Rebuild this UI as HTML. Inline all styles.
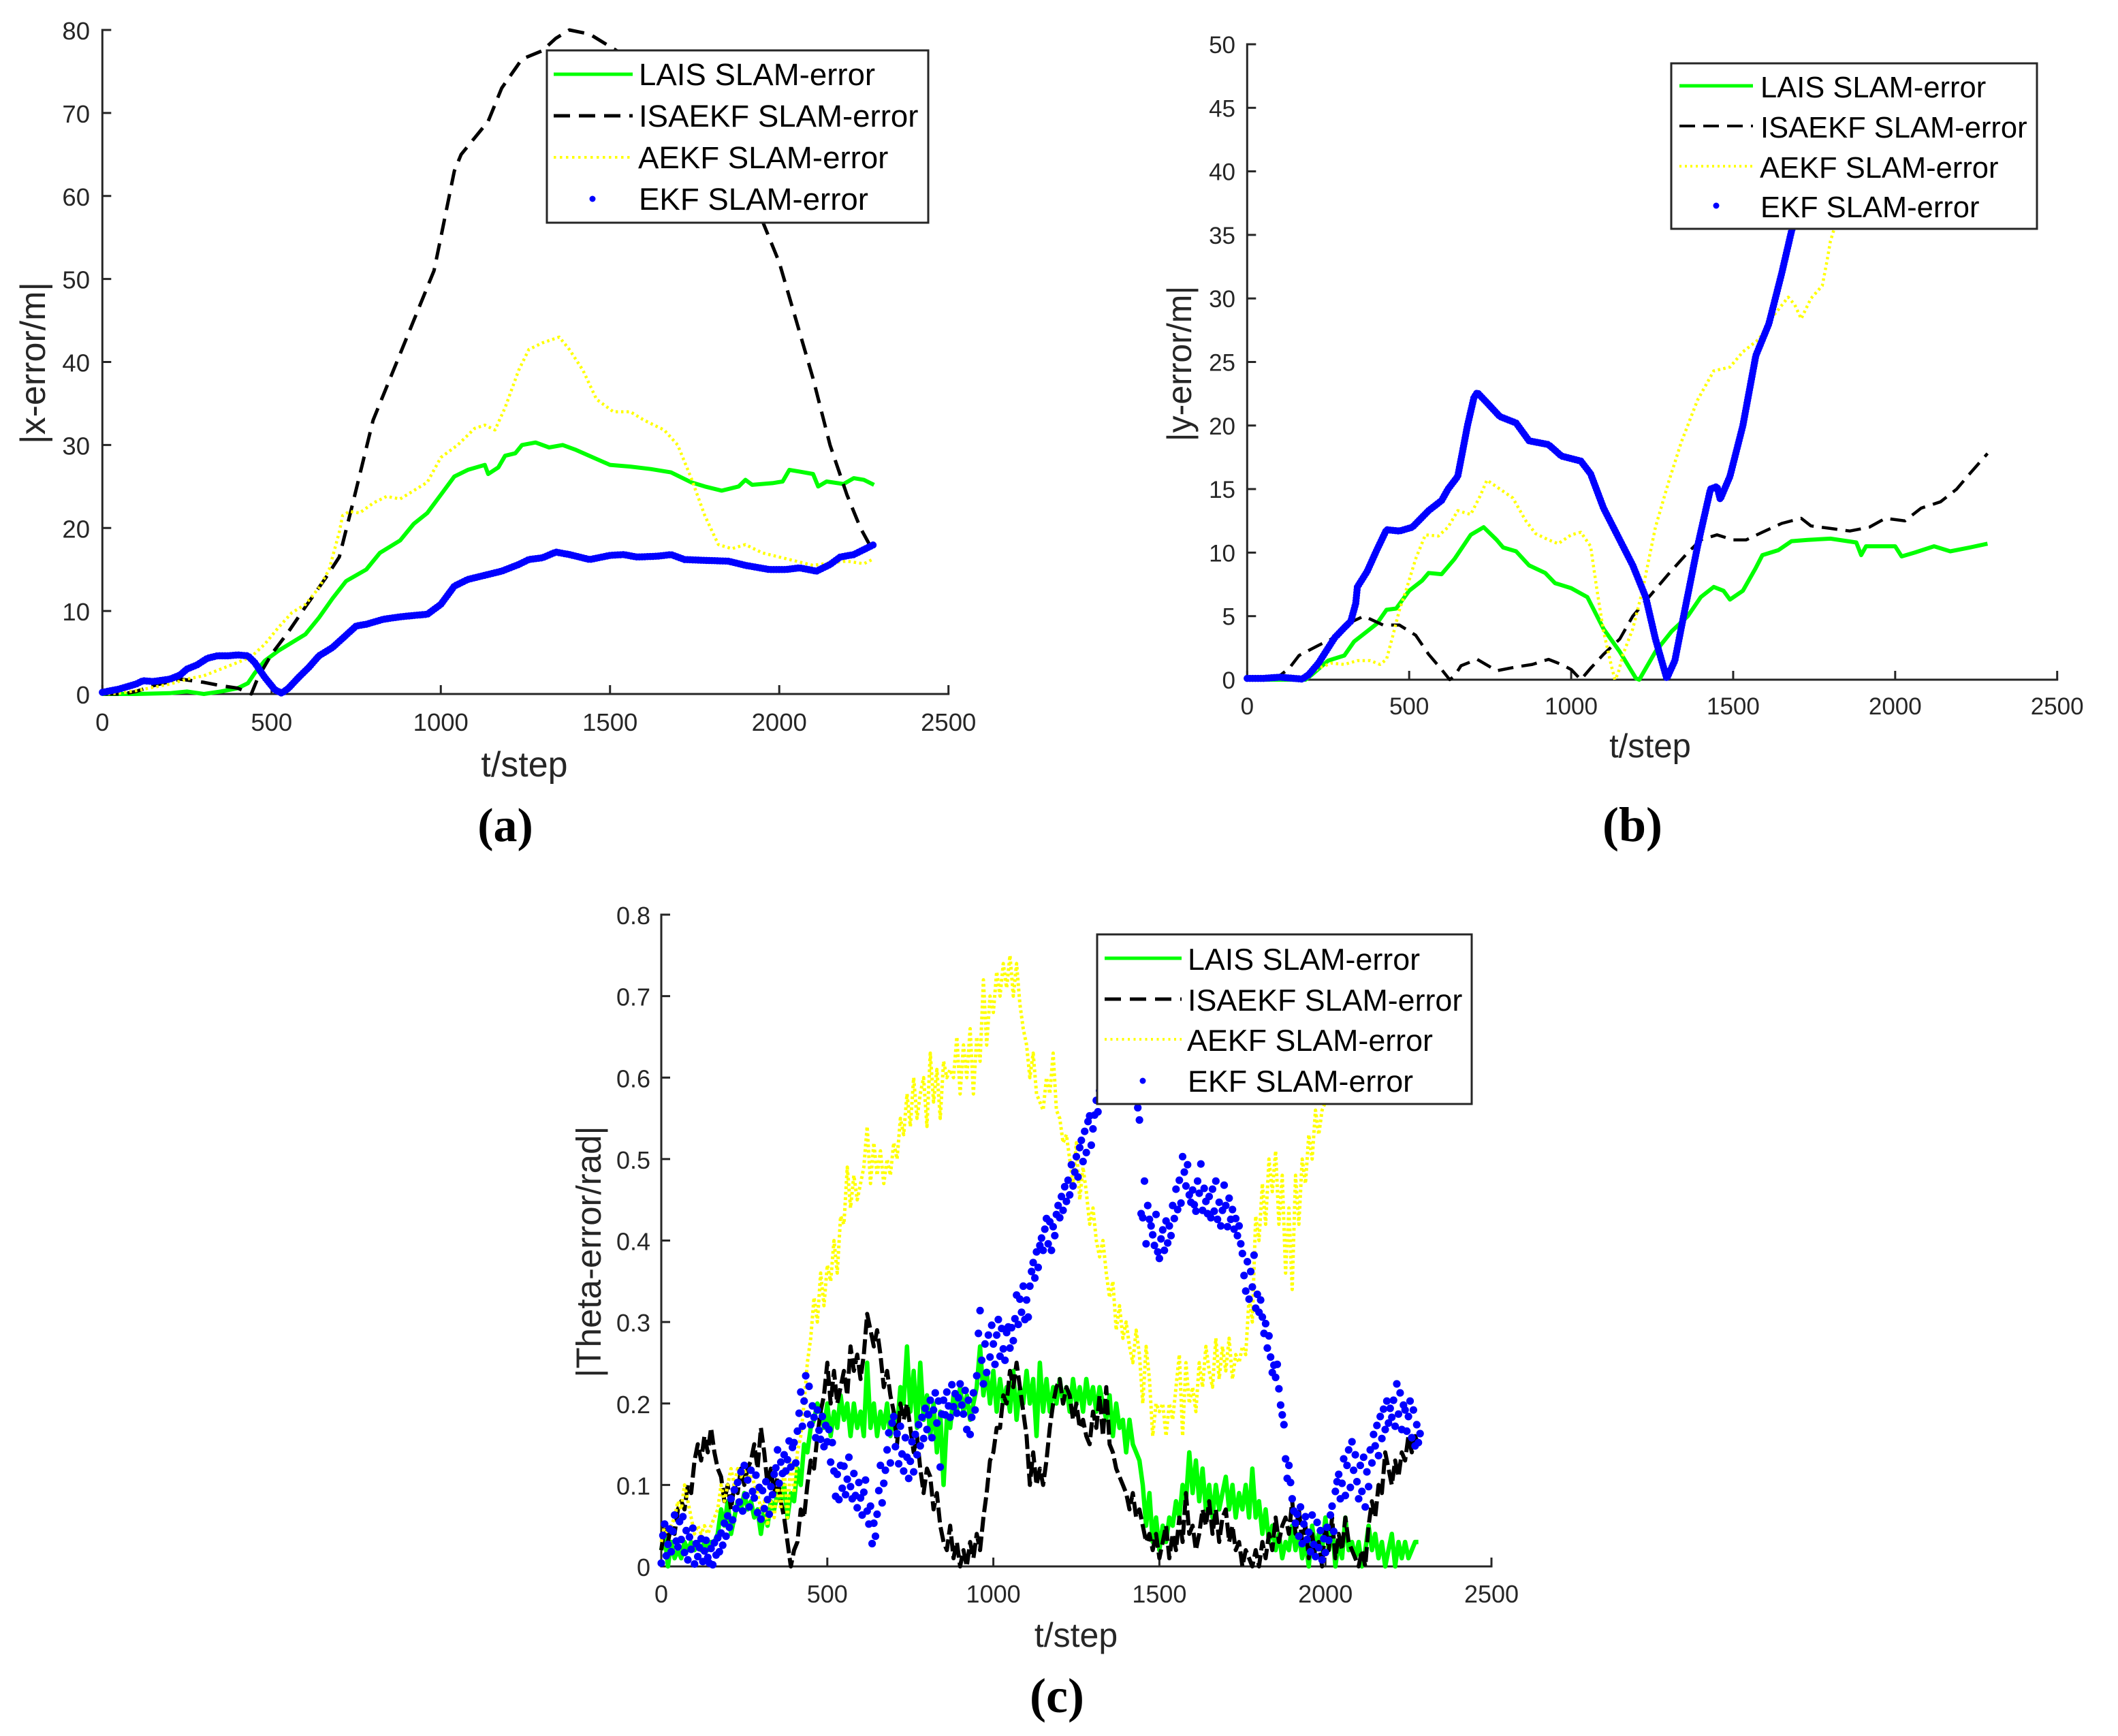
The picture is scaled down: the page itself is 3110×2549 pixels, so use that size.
<!DOCTYPE html>
<html lang="en">
<head>
<meta charset="utf-8">
<title>SLAM error comparison</title>
<style>
html,body{margin:0;padding:0;background:#fff;}
svg{display:block;}
text{font-family:"Liberation Sans",Arial,sans-serif;}
.tick{fill:#262626;}
.axt{fill:#262626;}
.leg{fill:#000;}
.cap{font-family:"Liberation Serif",serif;font-weight:bold;fill:#000;}
</style>
</head>
<body>
<svg id="fig" xmlns="http://www.w3.org/2000/svg" width="3110" height="2549" viewBox="0 0 3110 2549">
<rect x="0" y="0" width="3110" height="2549" fill="#fff"/>

<g id="panel-a">
  <g id="a-plot"></g>
  <g>
    <rect x="803" y="74" width="560" height="253" fill="#fff" stroke="#262626" stroke-width="3"/>
    <line x1="813" x2="929" y1="109" y2="109" stroke="#00ff00" stroke-width="5"/>
    <line x1="813" x2="929" y1="170" y2="170" stroke="#000" stroke-width="5" stroke-dasharray="24 13"/>
    <line x1="813" x2="929" y1="231" y2="231" stroke="#ffff00" stroke-width="4" stroke-dasharray="3.5 5.5"/>
    <circle cx="870" cy="292" r="4.5" fill="#0000ff"/>
    <text class="leg" x="938" y="125" font-size="45.6">LAIS SLAM-error</text>
    <text class="leg" x="938" y="186" font-size="45.6">ISAEKF SLAM-error</text>
    <text class="leg" x="937" y="247" font-size="45.6">AEKF SLAM-error</text>
    <text class="leg" x="938" y="308" font-size="45.6">EKF SLAM-error</text>
  </g>
  <text class="axt" x="770" y="1140" font-size="52" text-anchor="middle">t/step</text>
  <text class="axt" transform="translate(66,533) rotate(-90)" font-size="52" text-anchor="middle">|x-error/m|</text>
  <text class="cap" x="742" y="1235" font-size="70" text-anchor="middle">(a)</text>
</g>

<g id="panel-b">
  <g id="b-plot"></g>
  <g>
    <rect x="2454" y="93" width="537" height="243" fill="#fff" stroke="#262626" stroke-width="3"/>
    <line x1="2466" x2="2574" y1="126" y2="126" stroke="#00ff00" stroke-width="5"/>
    <line x1="2466" x2="2574" y1="185" y2="185" stroke="#000" stroke-width="4" stroke-dasharray="23 12"/>
    <line x1="2466" x2="2574" y1="244" y2="244" stroke="#ffff00" stroke-width="4" stroke-dasharray="3 5"/>
    <circle cx="2520" cy="302" r="4.5" fill="#0000ff"/>
    <text class="leg" x="2585" y="143" font-size="43.5">LAIS SLAM-error</text>
    <text class="leg" x="2585" y="202" font-size="43.5">ISAEKF SLAM-error</text>
    <text class="leg" x="2584" y="261" font-size="43.5">AEKF SLAM-error</text>
    <text class="leg" x="2585" y="319" font-size="43.5">EKF SLAM-error</text>
  </g>
  <text class="axt" x="2423" y="1112" font-size="49" text-anchor="middle">t/step</text>
  <text class="axt" transform="translate(1749,534) rotate(-90)" font-size="50" text-anchor="middle">|y-error/m|</text>
  <text class="cap" x="2397" y="1235" font-size="72" text-anchor="middle">(b)</text>
</g>

<g id="panel-c">
  <g id="c-plot"></g>
  <g>
    <rect x="1611" y="1372" width="550" height="249" fill="#fff" stroke="#262626" stroke-width="3"/>
    <line x1="1622" x2="1735" y1="1407" y2="1407" stroke="#00ff00" stroke-width="5"/>
    <line x1="1622" x2="1735" y1="1467" y2="1467" stroke="#000" stroke-width="5" stroke-dasharray="24 13"/>
    <line x1="1622" x2="1735" y1="1526" y2="1526" stroke="#ffff00" stroke-width="4" stroke-dasharray="3 5.5"/>
    <circle cx="1678" cy="1587" r="4.5" fill="#0000ff"/>
    <text class="leg" x="1744" y="1424" font-size="44.8">LAIS SLAM-error</text>
    <text class="leg" x="1744" y="1484" font-size="44.8">ISAEKF SLAM-error</text>
    <text class="leg" x="1743" y="1543" font-size="44.8">AEKF SLAM-error</text>
    <text class="leg" x="1744" y="1603" font-size="44.8">EKF SLAM-error</text>
  </g>
  <text class="axt" x="1580" y="2418" font-size="50" text-anchor="middle">t/step</text>
  <text class="axt" transform="translate(882,1838) rotate(-90)" font-size="51" text-anchor="middle">|Theta-error/rad|</text>
  <text class="cap" x="1552" y="2514" font-size="72" text-anchor="middle">(c)</text>
</g>
</svg>

<script>
const stepTicks = [0, 500, 1000, 1500, 2000, 2500];
const xErrorTicks = [0, 10, 20, 30, 40, 50, 60, 70, 80];
const yErrorTicks = [0, 5, 10, 15, 20, 25, 30, 35, 40, 45, 50];
const thetaTicks = [0, 0.1, 0.2, 0.3, 0.4, 0.5, 0.6, 0.7, 0.8];

/* panel (a): [t, |x-error|] */
const xErrorLais = [[0,0],[100,0],[200,.1],[250,.3],[300,0],[350,.3],[400,.7],[430,1.3],[450,2.5],[480,4],[520,5.2],[560,6.2],[600,7.2],[640,9.2],[680,11.5],[720,13.6],[780,15],[820,17],[880,18.5],[920,20.5],[960,21.8],[1000,24],[1040,26.2],[1080,27],[1130,27.6],[1140,26.5],[1170,27.3],[1190,28.7],[1220,29],[1240,30],[1280,30.3],[1320,29.7],[1360,30],[1400,29.4],[1450,28.5],[1500,27.6],[1560,27.4],[1620,27.1],[1680,26.7],[1740,25.5],[1780,25],[1830,24.5],[1880,25],[1900,25.8],[1920,25.2],[1980,25.4],[2010,25.6],[2030,27],[2060,26.8],[2100,26.5],[2115,25],[2140,25.6],[2190,25.3],[2220,26],[2250,25.8],[2280,25.2]];
const xErrorIsaekf = [[0,0],[60,0],[100,.3],[150,1],[230,1.8],[300,1.4],[350,1],[400,.7],[440,0],[460,2],[500,4.8],[550,7.5],[600,10.5],[660,14],[700,16.5],[740,23],[800,33],[860,39],[920,45],[980,51],[1000,55],[1040,63],[1060,65],[1100,67],[1140,69],[1180,73],[1240,76.5],[1300,77.5],[1340,79],[1380,80],[1440,79.5],[1500,78],[1560,76.5],[1600,75],[1700,70],[1800,65],[1900,60],[1950,57],[1980,54],[2000,52],[2050,45],[2100,38],[2150,30],[2200,24],[2240,20],[2280,17]];
const xErrorAekf = [[0,0],[50,.1],[100,.4],[150,.8],[200,1.2],[250,1.8],[300,2.2],[350,3],[400,3.8],[440,4.5],[480,6],[520,8],[560,9.8],[600,10.8],[640,12.8],[670,15],[700,19.5],[710,21.5],[730,22],[760,21.8],[800,23],[840,23.8],[880,23.5],[920,24.5],[960,25.5],[1000,28.5],[1050,30],[1100,32],[1130,32.4],[1160,31.8],[1190,34.5],[1230,39],[1260,41.5],[1300,42.3],[1350,43],[1380,41.5],[1420,39],[1460,35.5],[1510,34],[1560,34],[1600,33],[1660,31.8],[1700,30],[1740,26],[1780,21.5],[1820,18],[1860,17.5],[1900,18],[1950,17],[2000,16.5],[2050,16],[2100,15.5],[2150,15.8],[2200,16],[2250,15.7],[2280,16.3]];
const xErrorEkf = [[0,.2],[50,.6],[100,1.2],[120,1.6],[150,1.5],[200,1.8],[230,2.3],[250,3],[280,3.5],[310,4.3],[340,4.6],[370,4.6],[400,4.7],[430,4.6],[450,3.8],[480,2],[510,.5],[530,.1],[550,.7],[580,2],[610,3.2],[640,4.6],[680,5.6],[710,6.7],[750,8.2],[780,8.4],[830,9],[880,9.3],[930,9.5],[960,9.6],[1000,10.8],[1040,13],[1080,13.8],[1130,14.3],[1180,14.8],[1230,15.6],[1260,16.2],[1300,16.4],[1340,17.1],[1380,16.8],[1440,16.2],[1500,16.7],[1540,16.8],[1580,16.5],[1640,16.6],[1680,16.8],[1720,16.2],[1780,16.1],[1850,16],[1900,15.5],[1970,15],[2020,15],[2060,15.2],[2110,14.8],[2150,15.6],[2180,16.5],[2220,16.8],[2280,18]];

/* panel (b): [t, |y-error|] */
const yErrorLais = [[0,0],[180,0],[200,.4],[250,1.5],[300,1.9],[330,3],[370,3.8],[400,4.4],[430,5.5],[460,5.6],[500,7],[540,7.8],[560,8.4],[600,8.3],[640,9.5],[690,11.4],[730,12],[770,11],[790,10.4],[830,10.1],[870,9],[920,8.4],[950,7.6],[1000,7.2],[1050,6.5],[1100,4],[1150,2.2],[1200,.1],[1210,0],[1260,2.2],[1310,3.8],[1360,5],[1400,6.5],[1440,7.3],[1470,7],[1490,6.3],[1530,7],[1570,8.8],[1590,9.8],[1640,10.2],[1680,10.9],[1730,11],[1800,11.1],[1880,10.8],[1895,9.8],[1910,10.5],[2000,10.5],[2020,9.7],[2060,10],[2120,10.5],[2170,10.1],[2230,10.4],[2285,10.7]];
const yErrorIsaekf = [[0,0],[50,.2],[100,.3],[130,.9],[160,1.9],[220,2.7],[260,3.2],[310,4.4],[360,5],[420,4.3],[470,4.3],[520,3.5],[560,2],[600,.8],[625,0],[640,.3],[660,1.1],[710,1.6],[770,.7],[830,1],[880,1.2],[930,1.6],[970,1.2],[1000,.8],[1030,0],[1060,.9],[1100,2],[1150,3.2],[1190,5],[1240,6.5],[1300,8.3],[1360,10],[1400,11],[1450,11.4],[1500,11],[1540,11],[1590,11.6],[1650,12.3],[1710,12.7],[1740,12.1],[1800,11.9],[1860,11.7],[1920,12],[1970,12.7],[2030,12.5],[2080,13.5],[2140,14],[2190,15],[2230,16.2],[2285,17.8]];
const yErrorAekf = [[0,.1],[100,.3],[180,.2],[220,.9],[260,1.3],[300,1.2],[340,1.5],[380,1.5],[410,1.2],[430,1.6],[450,3.5],[470,5.5],[490,7],[520,9.5],[550,11.4],[590,11.3],[620,12],[650,13.3],[690,13],[720,14.5],[740,15.7],[780,15],[820,14.3],[860,12.5],[890,11.5],[930,11],[960,10.7],[1000,11.4],[1030,11.6],[1060,10.5],[1080,7],[1100,3.8],[1125,1],[1135,0],[1145,.5],[1160,2],[1190,4],[1220,7],[1260,12],[1300,15.5],[1340,18.7],[1390,22],[1440,24.3],[1490,24.6],[1530,25.8],[1580,26.8],[1620,28.5],[1670,30.1],[1690,29.5],[1710,28.4],[1740,30],[1775,31],[1790,33],[1800,34.5],[1830,37],[1880,42]];
const yErrorEkf = [[0,.1],[50,.1],[100,.2],[170,.05],[190,.4],[220,1.3],[250,2.5],[270,3.3],[300,4.1],[320,4.6],[335,6],[340,7.3],[370,8.5],[400,10.2],[430,11.8],[470,11.7],[510,12],[560,13.3],[600,14.1],[620,15],[650,16],[665,18],[680,20],[700,22.2],[710,22.6],[740,21.8],[780,20.7],[830,20.2],[870,18.8],[930,18.5],[970,17.6],[1030,17.2],[1060,16.2],[1100,13.5],[1150,11],[1190,9],[1230,6.5],[1260,3.2],[1295,.1],[1320,1.5],[1350,5.4],[1390,10.5],[1430,15],[1450,15.2],[1460,14.2],[1490,16],[1530,20],[1570,25.5],[1610,28],[1650,32],[1680,35.3],[1700,37],[1750,42],[1800,46]];

/* panel (c): read at one value per thetaLineStep (lines) or thetaDotStep (EKF points) */
const thetaLineStep = 10;
const thetaDotStep = 5;
const thetaLais = [
.02,.04,0,.03,.01,.02,.01,.03,.02,.03,
.02,.03,.02,.03,.02,.03,.03,.04,.07,.05,
.08,.04,.06,.08,.07,.09,.07,.08,.06,.07,
.04,.07,.05,.08,.07,.09,.08,.1,.06,.09,
.08,.12,.1,.15,.14,.17,.18,.2,.19,.17,
.2,.16,.19,.17,.21,.18,.2,.16,.2,.17,
.19,.16,.25,.17,.2,.16,.19,.17,.2,.16,
.19,.17,.22,.2,.27,.19,.24,.17,.25,.18,
.21,.16,.2,.14,.19,.1,.18,.17,.21,.19,
.22,.19,.21,.18,.2,.22,.27,.21,.24,.2,
.24,.19,.23,.2,.22,.19,.24,.18,.22,.2,
.24,.2,.23,.16,.25,.19,.23,.19,.22,.2,
.23,.2,.22,.19,.23,.2,.22,.19,.23,.2,
.22,.19,.22,.2,.18,.21,.16,.2,.17,.18,
.14,.18,.15,.14,.13,.1,.05,.09,.03,.06,
.02,.05,.03,.06,.05,.08,.06,.1,.08,.14,
.09,.13,.08,.12,.07,.1,.06,.1,.07,.09,
.11,.07,.1,.06,.09,.07,.1,.06,.12,.06,
.08,.04,.07,.03,.05,.02,.04,.01,.03,.02,
.05,.02,.04,.01,.03,0,.05,.02,.04,.02,
.06,.02,.05,0,.03,.01,.06,.02,.03,.01,
.03,0,.02,.05,.02,.04,.01,.03,0,.02,
.04,0,.03,.01,.03,.01,.02,.03,.03];
const thetaIsaekf = [
.02,.05,.03,.05,.04,.07,.08,.07,.1,.09,
.13,.15,.13,.16,.14,.17,.14,.12,.11,.08,
.1,.07,.1,.09,.12,.1,.12,.13,.15,.12,
.17,.14,.1,.12,.09,.11,.08,.06,.03,0,
.02,.03,.07,.06,.1,.13,.12,.16,.19,.21,
.25,.2,.24,.2,.22,.24,.21,.27,.24,.26,
.23,.26,.31,.29,.27,.29,.26,.22,.24,.21,
.19,.15,.2,.18,.2,.17,.14,.16,.12,.09,
.12,.11,.07,.09,.05,.03,.02,.05,.01,.03,
0,.02,0,.03,.01,.04,.02,.06,.09,.13,
.14,.17,.17,.21,.2,.24,.22,.25,.22,.19,
.16,.1,.14,.1,.12,.1,.13,.17,.2,.22,
.23,.2,.22,.21,.18,.2,.17,.18,.16,.15,
.19,.17,.21,.16,.22,.15,.14,.12,.11,.1,
.09,.07,.09,.06,.07,.05,.03,.04,.02,.04,
.01,.03,.05,.01,.04,.02,.06,.03,.09,.04,
.05,.02,.04,.07,.05,.08,.04,.07,.03,.06,
.07,.03,.05,.02,.03,0,.02,.01,0,.02,
0,.03,.01,.04,.02,.06,.03,.05,.06,.04,
.08,.04,.07,.03,.05,.01,.04,.01,.03,0,
.05,.02,.06,.01,.04,.02,.06,.03,.02,.01,
0,.02,0,.05,.08,.06,.1,.09,.14,.12,
.1,.13,.11,.14,.13,.16,.14,.16,.15];
const thetaAekf = [
.03,.05,.04,.05,.06,.08,.07,.1,.08,.06,
.04,.05,.04,.05,.04,.05,.06,.07,.1,.08,
.1,.12,.1,.12,.11,.12,.1,.12,.1,.09,
.07,.08,.05,.08,.06,.1,.07,.12,.06,.13,
.09,.14,.16,.2,.25,.28,.33,.3,.36,.32,
.37,.35,.4,.36,.43,.42,.49,.44,.48,.45,
.47,.49,.54,.47,.52,.48,.51,.47,.5,.48,
.52,.5,.55,.53,.58,.54,.6,.55,.58,.6,
.54,.63,.57,.61,.55,.62,.6,.61,.6,.65,
.58,.64,.6,.66,.58,.65,.62,.72,.64,.7,
.68,.73,.7,.74,.71,.75,.7,.74,.69,.66,
.64,.6,.63,.58,.57,.56,.6,.58,.63,.56,
.55,.52,.53,.5,.47,.52,.45,.49,.46,.42,
.44,.4,.38,.4,.36,.33,.35,.29,.32,.28,
.3,.27,.25,.29,.26,.2,.27,.23,.16,.2,
.19,.2,.16,.2,.18,.22,.26,.16,.25,.2,
.22,.19,.25,.22,.27,.24,.22,.28,.23,.27,
.24,.28,.23,.26,.25,.27,.26,.33,.3,.43,
.4,.47,.42,.5,.46,.51,.42,.48,.36,.44,
.34,.48,.42,.5,.47,.53,.5,.56,.53,.56,
.57,.62];
const thetaEkf = [
.004,.038,.052,.013,.027,.046,.018,.043,.063,.031,
.024,.055,.033,.061,.017,.044,.008,.036,.021,.047,
.003,.028,.012,.023,.034,.006,.019,.032,.011,.004,
.022,.002,.029,.014,.035,.018,.041,.026,.053,.037,
.062,.048,.083,.057,.094,.071,.103,.079,.116,.068,
.124,.087,.106,.073,.118,.092,.084,.112,.066,.097,
.058,.093,.071,.104,.082,.064,.098,.088,.113,.121,
.143,.102,.128,.114,.137,.117,.131,.154,.122,.146,
.152,.127,.166,.188,.214,.172,.203,.234,.187,.221,
.174,.197,.183,.158,.192,.167,.156,.184,.147,.173,
.153,.168,.128,.152,.117,.086,.113,.082,.124,.096,
.123,.088,.107,.134,.098,.083,.114,.087,.072,.103,
.084,.063,.091,.106,.068,.052,.074,.028,.053,.037,
.064,.093,.124,.078,.102,.118,.143,.164,.127,.176,
.184,.147,.163,.126,.172,.138,.117,.158,.134,.108,
.129,.153,.116,.162,.137,.174,.148,.183,.157,.194,
.168,.186,.204,.158,.192,.213,.176,.203,.122,.187,
.204,.186,.214,.197,.183,.223,.196,.212,.188,.207,
.224,.198,.187,.216,.168,.204,.162,.183,.213,.192,
.234,.286,.314,.253,.224,.273,.238,.284,.257,.296,
.273,.248,.284,.303,.258,.292,.267,.253,.287,.294,
.268,.293,.277,.304,.333,.297,.328,.312,.344,.303,
.327,.306,.344,.362,.373,.354,.386,.367,.394,.403,
.388,.414,.427,.396,.423,.388,.417,.406,.432,.443,
.428,.454,.437,.466,.448,.474,.456,.493,.467,.484,
.503,.478,.514,.523,.497,.534,.508,.546,.553,.517,
.537,.554,.572,.558,.584,.603,.577,.613,.596,.624,
.618,.633,.644,.627,.653,.638,.662,.647,.664,.636,
.652,.637,.624,.633,.612,.597,.584,.563,.548,.433,
.428,.473,.396,.443,.426,.418,.407,.394,.432,.386,
.378,.402,.413,.388,.424,.397,.418,.406,.443,.427,
.463,.438,.474,.446,.503,.484,.467,.493,.456,.447,
.462,.444,.436,.473,.458,.494,.437,.464,.448,.433,
.454,.428,.463,.436,.473,.426,.447,.418,.437,.468,
.443,.417,.452,.426,.438,.414,.427,.406,.418,.396,
.384,.357,.338,.374,.328,.362,.343,.382,.317,.334,
.312,.327,.306,.286,.298,.268,.283,.257,.238,.247,
.232,.248,.218,.198,.186,.174,.132,.108,.124,.103,
.083,.068,.053,.064,.037,.073,.028,.052,.061,.033,
.042,.018,.063,.027,.012,.054,.023,.044,.008,.034,
.017,.048,.032,.063,.074,.043,.092,.104,.113,.083,
.102,.132,.087,.124,.143,.097,.153,.118,.137,.104,
.083,.124,.092,.134,.073,.116,.098,.143,.127,.162,
.148,.173,.136,.184,.157,.193,.168,.203,.176,.194,
.183,.204,.172,.224,.187,.213,.168,.198,.192,.166,
.184,.203,.158,.192,.148,.174,.152,.163];

const NS = 'http://www.w3.org/2000/svg';

function scaleLinear(d0, d1, r0, r1) {
  return function (v) { return r0 + (v - d0) / (d1 - d0) * (r1 - r0); };
}

function toPairs(values, step) {
  return values.map(function (v, i) { return [i * step, v]; });
}

function drawAxes(g, sx, sy, xTicks, yTicks, fs, xBase, yRight, yBaseOff) {
  const x0 = sx(0), x1 = sx(xTicks[xTicks.length - 1]);
  const y0 = sy(0), y1 = sy(yTicks[yTicks.length - 1]);
  const yAxis = document.createElementNS(NS, 'line');
  
  
  yAxis.setAttribute('x1', x0); yAxis.setAttribute('x2', x0);
  yAxis.setAttribute('y1', y1 - 1.5); yAxis.setAttribute('y2', y0 + 1.5);
  yAxis.setAttribute('stroke', '#262626'); yAxis.setAttribute('stroke-width', 3);
  g.appendChild(yAxis);
  const xAxis = document.createElementNS(NS, 'line');
  
  
  xAxis.setAttribute('x1', x0 - 1.5); xAxis.setAttribute('x2', x1 + 1.5);
  xAxis.setAttribute('y1', y0); xAxis.setAttribute('y2', y0);
  xAxis.setAttribute('stroke', '#262626'); xAxis.setAttribute('stroke-width', 3);
  g.appendChild(xAxis);
  xTicks.forEach(function (t) {
    const tick = document.createElementNS(NS, 'line');
    
    
    tick.setAttribute('x1', sx(t)); tick.setAttribute('x2', sx(t));
    tick.setAttribute('y1', y0); tick.setAttribute('y2', y0 - 13);
    tick.setAttribute('stroke', '#262626'); tick.setAttribute('stroke-width', 3);
    g.appendChild(tick);
    const label = document.createElementNS(NS, 'text');
    
    
    label.setAttribute('class', 'tick');
    label.setAttribute('x', sx(t)); label.setAttribute('y', xBase);
    label.setAttribute('font-size', fs); label.setAttribute('text-anchor', 'middle');
    label.textContent = String(t);
    g.appendChild(label);
  });
  yTicks.forEach(function (v) {
    const tick = document.createElementNS(NS, 'line');
    
    
    tick.setAttribute('x1', x0); tick.setAttribute('x2', x0 + 13);
    tick.setAttribute('y1', sy(v)); tick.setAttribute('y2', sy(v));
    tick.setAttribute('stroke', '#262626'); tick.setAttribute('stroke-width', 3);
    g.appendChild(tick);
    const label = document.createElementNS(NS, 'text');
    
    
    label.setAttribute('class', 'tick');
    label.setAttribute('x', yRight); label.setAttribute('y', sy(v) + yBaseOff);
    label.setAttribute('font-size', fs); label.setAttribute('text-anchor', 'end');
    label.textContent = String(v);
    g.appendChild(label);
  });
}

function drawLine(g, name, pairs, sx, sy, color, width, dash, cap) {
  const line = document.createElementNS(NS, 'polyline');
  
  
  line.setAttribute('points', pairs.map(function (p) {
    return sx(p[0]).toFixed(1) + ',' + sy(p[1]).toFixed(1);
  }).join(' '));
  line.setAttribute('fill', 'none');
  line.setAttribute('stroke', color);
  line.setAttribute('stroke-width', width);
  line.setAttribute('stroke-linejoin', 'round');
  if (dash) line.setAttribute('stroke-dasharray', dash);
  if (cap) line.setAttribute('stroke-linecap', cap);
  g.appendChild(line);
}

function drawDots(g, pairs, sx, sy, r) {
  pairs.forEach(function (p) {
    const dot = document.createElementNS(NS, 'circle');
    
    
    dot.setAttribute('cx', sx(p[0]).toFixed(1));
    dot.setAttribute('cy', sy(p[1]).toFixed(1));
    dot.setAttribute('r', r);
    dot.setAttribute('fill', '#0000ff');
    g.appendChild(dot);
  });
}

/* panel a */
(function () {
  const g = document.getElementById('a-plot');
  const sx = scaleLinear(0, 2500, 150.3, 1392.7);
  const sy = scaleLinear(0, 80, 1019, 44);
  drawAxes(g, sx, sy, stepTicks, xErrorTicks, 36.5, 1073, 132, 14);
  drawLine(g, 'lais-line', xErrorLais, sx, sy, '#00ff00', 6);
  drawLine(g, 'isaekf-line', xErrorIsaekf, sx, sy, '#000000', 5, '24 13');
  drawLine(g, 'aekf-line', xErrorAekf, sx, sy, '#ffff00', 4.5, '3.5 4.5');
  drawLine(g, 'ekf-points', xErrorEkf, sx, sy, '#0000ff', 10.5, '0 4', 'round');
})();

/* panel b */
(function () {
  const g = document.getElementById('b-plot');
  const sx = scaleLinear(0, 2500, 1831.3, 3020.7);
  const sy = scaleLinear(0, 50, 998, 65);
  drawAxes(g, sx, sy, stepTicks, yErrorTicks, 35, 1049, 1814, 13);
  drawLine(g, 'lais-line', yErrorLais, sx, sy, '#00ff00', 6);
  drawLine(g, 'isaekf-line', yErrorIsaekf, sx, sy, '#000000', 4.5, '23 12');
  drawLine(g, 'aekf-line', yErrorAekf, sx, sy, '#ffff00', 4.5, '3.5 4.5');
  drawLine(g, 'ekf-points', yErrorEkf, sx, sy, '#0000ff', 10.5, '0 4', 'round');
})();

/* panel c */
(function () {
  const g = document.getElementById('c-plot');
  const sx = scaleLinear(0, 2500, 971, 2190);
  const sy = scaleLinear(0, 0.8, 2300, 1343);
  drawAxes(g, sx, sy, stepTicks, thetaTicks, 36, 2353, 955, 14);
  drawLine(g, 'lais-line', toPairs(thetaLais, thetaLineStep), sx, sy, '#00ff00', 6.5);
  drawLine(g, 'isaekf-line', toPairs(thetaIsaekf, thetaLineStep), sx, sy, '#000000', 6, '22 7');
  drawLine(g, 'aekf-line', toPairs(thetaAekf, thetaLineStep), sx, sy, '#ffff00', 5, '4 4');
  drawDots(g, toPairs(thetaEkf, thetaDotStep), sx, sy, 5.6);
})();
</script>
</body>
</html>
